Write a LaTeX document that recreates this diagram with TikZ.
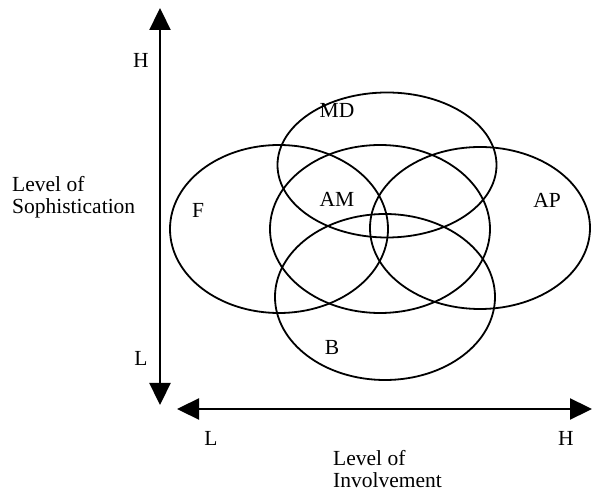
\documentclass[tikz,border=0pt]{standalone}
\usepackage{fontspec}
\setmainfont{Liberation Serif}
\usetikzlibrary{shapes.geometric,arrows.meta}
\begin{document}
\begin{tikzpicture}[x=1pt,y=-1pt,
  every node/.style={inner sep=0pt,font=\fontsize{21.5}{22}\selectfont},
  set/.style={draw,ellipse,line width=1.8pt,minimum width=#1},
  axis/.style={line width=2.3pt,{Triangle[length=22pt,width=21pt]}-{Triangle[length=22pt,width=21pt]}},
  lbl/.style={anchor=center}]
\useasboundingbox (0,0) rectangle (592,494);
% sets
\node[set=219pt,minimum height=145pt] (MD) at (387,165) {};
\node[set=218pt,minimum height=168pt] (F) at (279,229) {};
\node[set=220pt,minimum height=168pt] (AM) at (380,229) {};
\node[set=220pt,minimum height=162pt] (AP) at (480,228) {};
\node[set=220pt,minimum height=166pt] (B) at (385,297) {};
% labels
\node[lbl] (tMD) at (337,110) {MD};
\node[lbl] (tAM) at (337,199) {AM};
\node[lbl] (tF) at (198,210) {F};
\node[lbl] (tAP) at (547,200) {AP};
\node[lbl] (tB) at (332,347) {B};
% axes
\coordinate (vtop) at (160,8);
\coordinate (vbot) at (160,405);
\coordinate (hl) at (177,409);
\coordinate (hr) at (592,409);
\draw[axis] (vbot) -- (vtop);
\draw[axis] (hl) -- (hr);
\node[lbl] (vH) at (141,60) {H};
\node[lbl] (vL) at (141,358) {L};
\node[lbl] (hL) at (211,438) {L};
\node[lbl] (hH) at (566,438) {H};
\node[anchor=north west,align=left] (ylab) at (12,176) {Level of\\Sophistication};
\node[anchor=north west,align=left] (xlab) at (333,450) {Level of\\Involvement};
\end{tikzpicture}
\end{document}
